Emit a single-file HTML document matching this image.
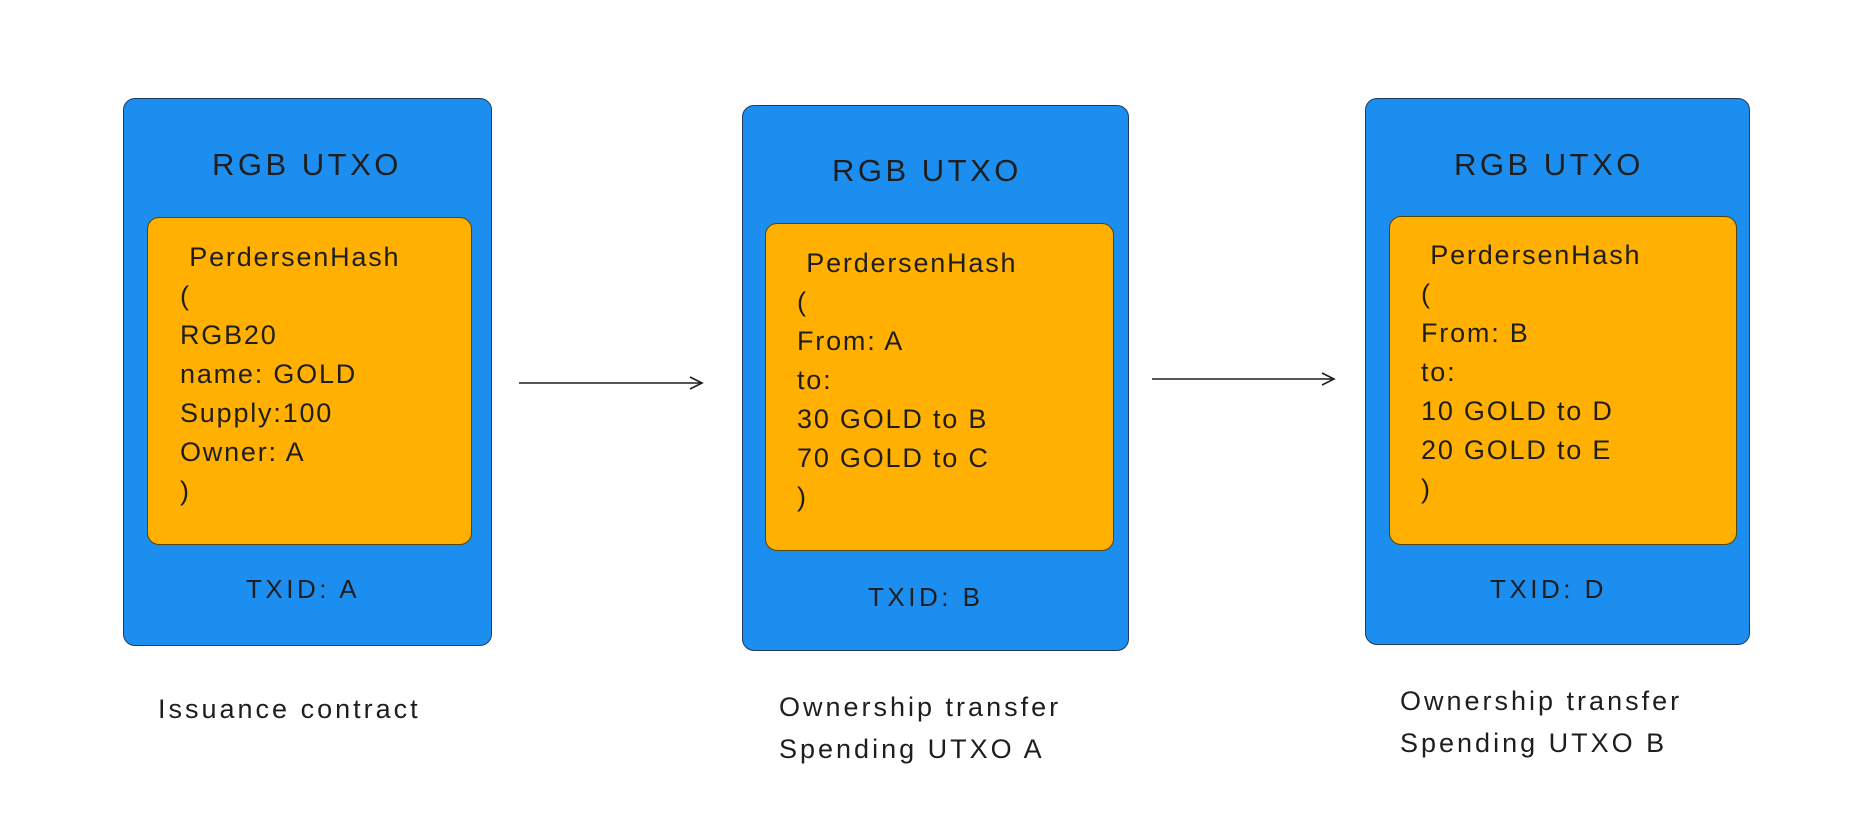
<!DOCTYPE html>
<html><head><meta charset="utf-8"><style>
body{margin:0;width:1858px;height:828px;background:#fff;position:relative;overflow:hidden;font-family:"Liberation Sans",sans-serif;color:#1e1e1e}
.box{position:absolute;background:#1c8ef0;border:1.5px solid #1e3a5f;border-radius:12px;box-sizing:border-box}
.in{position:absolute;background:#ffb000;border:1.5px solid #5a4400;border-radius:12px;box-sizing:border-box}
.t{position:absolute;font-size:31px;letter-spacing:3.5px;white-space:nowrap}
.x{position:absolute;font-size:26px;letter-spacing:3.5px;white-space:nowrap}
.c{position:absolute;font-size:27px;letter-spacing:1.8px;line-height:39px;white-space:pre}
.cap{position:absolute;font-size:27px;letter-spacing:3px;line-height:42px;white-space:pre}
</style></head><body>
<div class="box" style="left:123px;top:98px;width:369px;height:548px"></div>
<div class="in" style="left:147px;top:217px;width:325px;height:328px"></div>
<div class="t" style="left:212px;top:147px">RGB UTXO</div>
<div class="c" style="left:180px;top:238px"> PerdersenHash
(
RGB20
name: GOLD
Supply:100
Owner: A
)</div>
<div class="x" style="left:246px;top:574px">TXID: A</div>

<div class="box" style="left:742px;top:105px;width:387px;height:546px"></div>
<div class="in" style="left:765px;top:223px;width:349px;height:328px"></div>
<div class="t" style="left:832px;top:153px">RGB UTXO</div>
<div class="c" style="left:797px;top:244px"> PerdersenHash
(
From: A
to:
30 GOLD to B
70 GOLD to C
)</div>
<div class="x" style="left:868px;top:582px">TXID: B</div>

<div class="box" style="left:1365px;top:98px;width:385px;height:547px"></div>
<div class="in" style="left:1389px;top:216px;width:348px;height:329px"></div>
<div class="t" style="left:1454px;top:147px">RGB UTXO</div>
<div class="c" style="left:1421px;top:236px"> PerdersenHash
(
From: B
to:
10 GOLD to D
20 GOLD to E
)</div>
<div class="x" style="left:1490px;top:574px">TXID: D</div>

<svg style="position:absolute;left:0;top:0" width="1858" height="828">
<g stroke="#1e1e1e" stroke-width="1.6" fill="none">
<line x1="519" y1="383" x2="702" y2="383"/><polyline points="690,377 702,383 690,389"/>
<line x1="1152" y1="379" x2="1334" y2="379"/><polyline points="1322,373 1334,379 1322,385"/>
</g></svg>

<div class="cap" style="left:158px;top:688px">Issuance contract</div>
<div class="cap" style="left:779px;top:686px">Ownership transfer
Spending UTXO A</div>
<div class="cap" style="left:1400px;top:680px">Ownership transfer
Spending UTXO B</div>
</body></html>
